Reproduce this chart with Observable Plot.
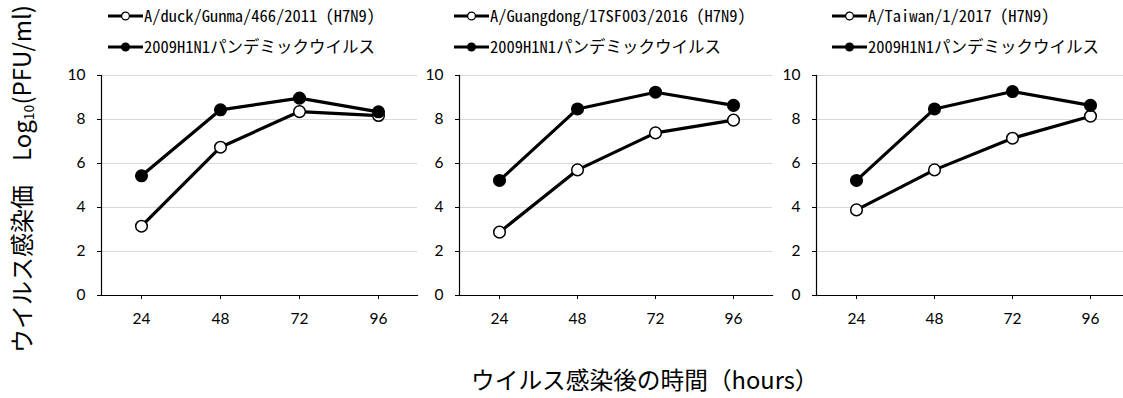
<!DOCTYPE html>
<html>
<head>
<meta charset="utf-8">
<script src="https://cdn.jsdelivr.net/npm/d3@7"></script>
<script src="https://cdn.jsdelivr.net/npm/@observablehq/plot@0.6"></script>
<style>
  html, body { margin: 0; padding: 0; background: #fff; overflow: hidden; }
  #root { position: relative; width: 1123px; height: 398px; overflow: hidden; background: #fff; }
  .panel { position: absolute; }
  .legend { position: absolute; font-family: "Noto Sans Mono CJK JP", "Noto Sans CJK JP", "Noto Sans", sans-serif; font-size: 16.5px; line-height: 1; color: #000; white-space: nowrap; }
  .legend .row { display: flex; align-items: center; height: 31px; }
  .legend svg { margin-right: 1px; flex: none; }
  .ytitle { position: absolute; font-family: "Noto Sans CJK JP", sans-serif; font-size: 24px; line-height: 1; white-space: nowrap; transform-origin: center center; }
  .xtitle { position: absolute; font-family: "Noto Sans CJK JP", sans-serif; font-size: 23.7px; line-height: 1; white-space: nowrap; }
</style>
</head>
<body>
<div id="root"></div>
<script>
// ---- data ----
const hours = ["24", "48", "72", "96"];
const yTicks = [0, 2, 4, 6, 8, 10];
const strainNames = ["A/duck/Gunma/466/2011 (H7N9)", "A/Guangdong/17SF003/2016 (H7N9)", "A/Taiwan/1/2017 (H7N9)"];
const pandemicName = "2009H1N1パンデミックウイルス";
const h7n9Gunma = [3.15, 6.74, 8.36, 8.18];
const h7n9Guangdong = [2.88, 5.71, 7.39, 7.97];
const h7n9Taiwan = [3.89, 5.71, 7.15, 8.15];
const h1n1PanelGunma = [5.44, 8.44, 8.97, 8.35];
const h1n1PanelGuangdong = [5.23, 8.48, 9.24, 8.64];
const h1n1PanelTaiwan = [5.23, 8.48, 9.27, 8.64];
const yTitleText = "ウイルス感染価";
const xTitleText = "ウイルス感染後の時間（hours）";

const h7n9Series = [h7n9Gunma, h7n9Guangdong, h7n9Taiwan];
const h1n1Series = [h1n1PanelGunma, h1n1PanelGuangdong, h1n1PanelTaiwan];

// ---- layout ----
const panels = [
  {left: 61, plotW: 316, legendLeft: 108},
  {left: 419, plotW: 313, legendLeft: 454},
  {left: 776, plotW: 313, legendLeft: 832}
];
const mL = 40, mR = 4, mT = 10, mB = 35, plotH = 220;
const root = document.getElementById("root");

panels.forEach((p, i) => {
  const rows = [];
  hours.forEach((h, j) => {
    rows.push({hour: h, value: h7n9Series[i][j], series: "h7n9"});
    rows.push({hour: h, value: h1n1Series[i][j], series: "h1n1"});
  });
  const chart = Plot.plot({
    width: mL + p.plotW + mR,
    height: mT + plotH + mB,
    marginLeft: mL, marginRight: mR, marginTop: mT, marginBottom: mB,
    style: {background: "transparent", fontFamily: "Lato, 'Open Sans', sans-serif", fontSize: "15px", color: "#000"},
    x: {type: "point", domain: hours, padding: 0.5, label: null},
    y: {domain: [0, 10], label: null},
    marks: [
      Plot.gridY(yTicks, {stroke: "#d9d9d9", strokeOpacity: 1, strokeWidth: 1}),
      Plot.axisY(yTicks, {tickSize: 4, tickPadding: 12, fontSize: 15.5, stroke: "#000", label: null}),
      Plot.axisX(hours, {tickSize: 4, tickPadding: 13, fontSize: 15.5, stroke: "#000", label: null}),
      Plot.frame({anchor: "left", stroke: "#000", strokeWidth: 1.2}),
      Plot.frame({anchor: "bottom", stroke: "#000", strokeWidth: 1.2}),
      Plot.line(rows, {x: "hour", y: "value", z: "series", stroke: "#000", strokeWidth: 3.2}),
      Plot.dot(rows, {x: "hour", y: "value", r: 5.8, stroke: "#000", strokeWidth: 1.5,
        fill: d => d.series === "h1n1" ? "#000" : "#fff"})
    ]
  });
  chart.classList.add("panel");
  chart.style.left = p.left + "px";
  chart.style.top = (75 - mT) + "px";
  root.appendChild(chart);

  // legend
  const lg = document.createElement("div");
  lg.className = "legend";
  lg.style.left = p.legendLeft + "px";
  lg.style.top = "0px";
  const entries = [{name: strainNames[i], fill: "#fff"}, {name: pandemicName, fill: "#000"}];
  entries.forEach(e => {
    const row = document.createElement("div");
    row.className = "row";
    row.innerHTML = `<svg width="35" height="12"><line x1="0" x2="35" y1="6" y2="6" stroke="#000" stroke-width="3"/><circle cx="17.5" cy="6" r="3.9" fill="${e.fill}" stroke="#000" stroke-width="1.3"/></svg><span>${e.name}</span>`;
    lg.appendChild(row);
  });
  root.appendChild(lg);
});

// y title
const yt = document.createElement("div");
yt.className = "ytitle";
yt.innerHTML = `${yTitleText}　Log<sub style="font-size:14px;vertical-align:-3px;line-height:1">10</sub>(PFU/ml)`;
root.appendChild(yt);
const w = yt.offsetWidth, hgt = yt.offsetHeight;
yt.style.left = (22 - w / 2) + "px";
yt.style.top = (179 - hgt / 2) + "px";
yt.style.transform = "rotate(-90deg)";

// x title
const xt = document.createElement("div");
xt.className = "xtitle";
xt.textContent = xTitleText;
root.appendChild(xt);
xt.style.left = (645 - xt.offsetWidth / 2) + "px";
xt.style.top = (380 - xt.offsetHeight / 2) + "px";
</script>
</body>
</html>
